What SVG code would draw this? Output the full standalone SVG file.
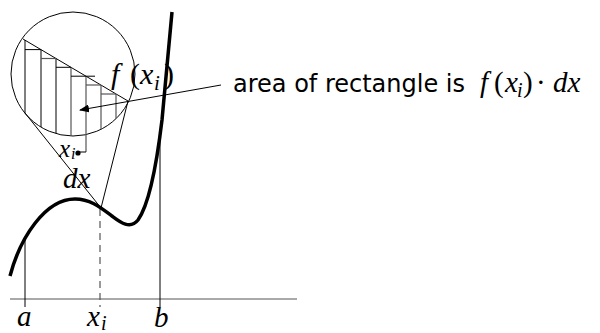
<svg xmlns="http://www.w3.org/2000/svg" width="600" height="333" viewBox="0 0 600 333">
<defs>
<marker id="ah" viewBox="0 0 10 8" refX="9" refY="4" markerWidth="10" markerHeight="8" markerUnits="userSpaceOnUse" orient="auto">
<path d="M0,0 L10,4 L0,8 Z" fill="#000"/>
</marker>
<clipPath id="cc"><circle cx="73" cy="74" r="62"/></clipPath>
</defs>
<style>
.thin{fill:none;stroke:#000;stroke-width:1}
.gray{fill:none;stroke:#555;stroke-width:1.2}
.math{font-family:"Liberation Serif","DejaVu Serif",serif;font-style:italic;fill:#000}
.sans{font-family:"DejaVu Sans","Liberation Sans",sans-serif;fill:#000}
</style>
<rect width="600" height="333" fill="#fff"/>
<g id="axes">
<line x1="10" y1="299" x2="297" y2="299" class="gray"/>
<line x1="25" y1="237" x2="25" y2="307" class="thin"/>
<line x1="160" y1="135" x2="160" y2="307" class="thin"/>
<line x1="100" y1="209" x2="100" y2="307" class="gray" stroke-dasharray="7,5"/>
</g>
<g id="curve">
<path d="M10,276 C20,238 45,199 75,199 C90,199 100,207 112,216 C120,222 130,230 138,220 C148,206 156,170 162,120 L172,12" fill="none" stroke="#000" stroke-width="3.5"/>
</g>
<g id="magnifier">
<circle cx="73" cy="74" r="62" class="thin"/>
<line x1="23" y1="39" x2="128" y2="101" class="thin"/>
<g clip-path="url(#cc)">
<line x1="25" y1="40" x2="25" y2="140" class="thin"/>
<line x1="41" y1="49.6" x2="41" y2="140" class="thin"/>
<line x1="56" y1="58.5" x2="56" y2="140" class="thin"/>
<line x1="71" y1="67.3" x2="71" y2="140" class="gray"/>
<line x1="101" y1="85" x2="101" y2="140" class="gray"/>
<line x1="116" y1="94" x2="116" y2="140" class="gray"/>
</g>
<line x1="86" y1="76.2" x2="86" y2="152" class="gray"/>
<line x1="25" y1="49.6" x2="41" y2="49.6" class="thin"/>
<line x1="41" y1="58.5" x2="56" y2="58.5" class="gray"/>
<line x1="56" y1="67.3" x2="71" y2="67.3" class="thin"/>
<line x1="71" y1="76.2" x2="95" y2="76.2" class="thin"/>
<line x1="86" y1="85" x2="101" y2="85" class="gray"/>
<line x1="101" y1="94" x2="116" y2="94" class="gray"/>
<line x1="25" y1="113" x2="101" y2="208" class="thin"/>
<line x1="128" y1="101" x2="101" y2="208" class="thin"/>
<line x1="78" y1="152" x2="86" y2="152" class="thin"/>
<circle cx="78" cy="153" r="2.6" fill="#000"/>
</g>
<g id="connectors">
<line x1="221" y1="85" x2="80" y2="110" class="thin" marker-end="url(#ah)"/>
</g>
<g id="labels">
<text class="math" font-size="30" x="111" y="84">f<tspan x="130" font-style="normal">(</tspan><tspan x="140">x</tspan><tspan x="154" y="90" font-size="21">i</tspan><tspan x="164" y="84" font-style="normal">)</tspan></text>
<text class="math" font-size="25" x="59" y="157">x<tspan x="71" y="159" font-size="16">i</tspan></text>
<text class="math" font-size="29" x="63" y="188">dx</text>
<text class="math" font-size="29" x="17" y="326">a</text>
<text class="math" font-size="29" x="87" y="326">x<tspan x="101" y="330" font-size="20">i</tspan></text>
<text class="math" font-size="29" x="154" y="327">b</text>
<text class="sans" font-size="24" x="233" y="92">area of rectangle is</text>
<text class="math" font-size="29" x="480" y="92">f<tspan x="494" font-style="normal">(</tspan><tspan x="505">x</tspan><tspan x="517" y="97" font-size="20">i</tspan><tspan x="523" y="92" font-style="normal">)</tspan><tspan x="536" font-style="normal">·</tspan><tspan x="553">dx</tspan></text>
</g>
</svg>
